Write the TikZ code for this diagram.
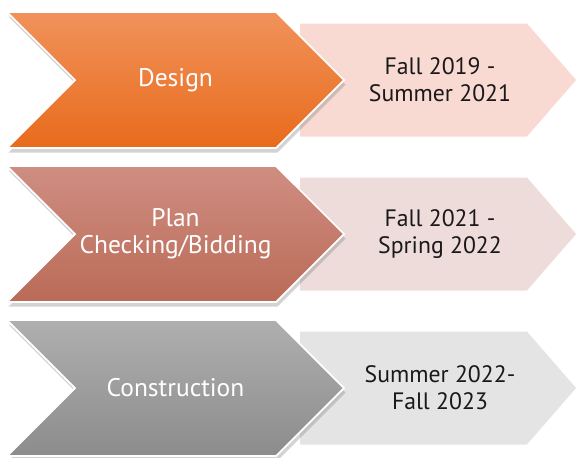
\documentclass[tikz,border=0pt]{standalone}
\usepackage{fontspec}
\setmainfont{PT Sans}
\usetikzlibrary{shapes.symbols, shadows}

\definecolor{designtop}{HTML}{F1925B}
\definecolor{designbot}{HTML}{E86B1C}
\definecolor{plantop}{HTML}{CF8E82}
\definecolor{planbot}{HTML}{BA6B57}
\definecolor{constop}{HTML}{AFAFAF}
\definecolor{consbot}{HTML}{8C8C8C}
\definecolor{designlight}{HTML}{F8DAD3}
\definecolor{planlight}{HTML}{EEDCDB}
\definecolor{conslight}{HTML}{E4E4E4}

\tikzstyle{phase} = [signal, signal to=east, signal from=west, signal pointer angle=90, minimum width=6.74cm, minimum height=2.72cm, inner sep=0pt, draw=white, line width=1pt, text=white, align=center, font=\fontsize{14.5}{15.5}\selectfont, drop shadow={opacity=0.35, shadow xshift=0.3mm, shadow yshift=-0.9mm}]
\tikzstyle{period} = [signal, signal to=east, signal pointer angle=98, minimum width=5.52cm, minimum height=2.26cm, inner sep=0pt]
\tikzstyle{periodtext} = [text=black!90, align=center, inner sep=0pt, font=\fontsize{13.5}{15.5}\selectfont]

\begin{document}
\begin{tikzpicture}[node distance=3.08cm]

\useasboundingbox (0,0) rectangle (11.52,-9.14);

\node (fall19) [period, fill=designlight] at (8.27,-1.6) {};
\node (fall21) [period, fill=planlight, below of=fall19] {};
\node (sum22) [period, fill=conslight, below of=fall21] {};

\node (fall19txt) [periodtext] at ([xshift=0.53cm]fall19.center) {Fall 2019 -\\Summer 2021};
\node (fall21txt) [periodtext] at ([xshift=0.53cm]fall21.center) {Fall 2021 -\\Spring 2022};
\node (sum22txt) [periodtext] at ([xshift=0.53cm]sum22.center) {Summer 2022-\\Fall 2023};

\node (design) [phase, top color=designtop, bottom color=designbot, left of=fall19, xshift=-1.68cm] {Design};
\node (plan) [phase, top color=plantop, bottom color=planbot, below of=design] {Plan\\Checking/Bidding};
\node (build) [phase, top color=constop, bottom color=consbot, below of=plan] {Construction};

\end{tikzpicture}
\end{document}
